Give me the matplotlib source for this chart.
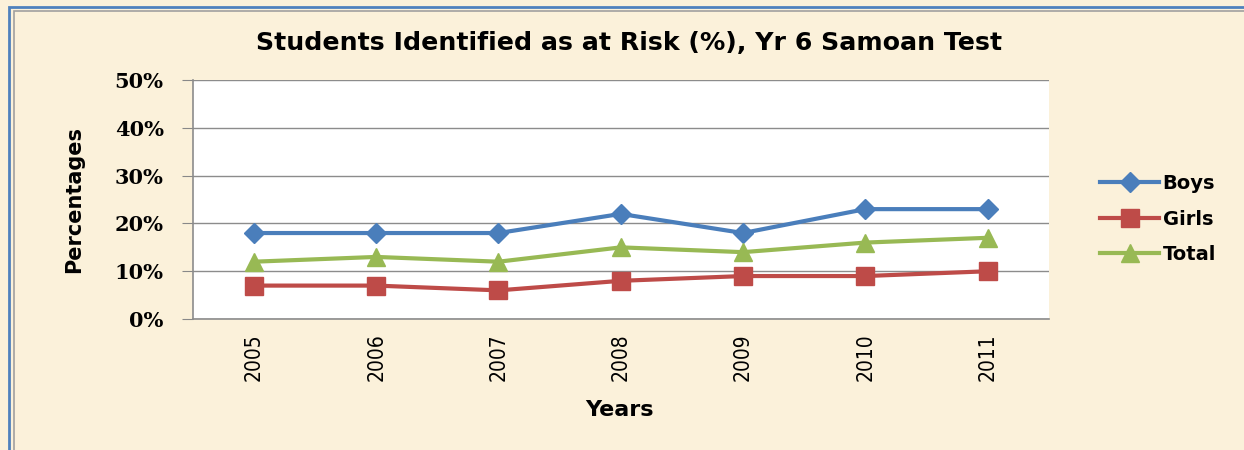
import numpy as np
import matplotlib.pyplot as plt
from matplotlib.patches import Rectangle

years = ['2005', '2006', '2007', '2008', '2009', '2010', '2011']
boys = [18, 18, 18, 22, 18, 23, 23]
girls = [7, 7, 6, 8, 9, 9, 10]
total = [12, 13, 12, 15, 14, 16, 17]

fig = plt.figure(figsize=(12.44, 4.5), dpi=100)
fig.patch.set_facecolor('#FBF1DA')

# ramka wokół wykresu
fig.patches.append(Rectangle((0.007, -0.05), 1.05, 1.035, transform=fig.transFigure,
                             fill=False, edgecolor='#4F81BD', linewidth=2.0))
fig.patches.append(Rectangle((0.011, -0.05), 1.05, 1.025, transform=fig.transFigure,
                             fill=False, edgecolor='#A0A0A0', linewidth=1.2))

ax = fig.add_axes([0.155, 0.291, 0.688, 0.531])
ax.set_facecolor('white')

x = np.arange(len(years))
ax.plot(x, boys, color='#4A7EBB', lw=3, marker='D', ms=10, label='Boys')
ax.plot(x, girls, color='#BE4B48', lw=3, marker='s', ms=13, label='Girls')
ax.plot(x, total, color='#98B954', lw=3, marker='^', ms=13, label='Total')

ax.set_xlim(-0.5, 6.5)
ax.set_ylim(0, 50)
ax.set_yticks(range(0, 51, 10))
ax.set_yticklabels([f'{v}%' for v in range(0, 51, 10)],
                   fontfamily='DejaVu Serif', fontweight='bold', fontsize=15)
ax.set_xticks(x)
ax.set_xticklabels(years, rotation=90, fontfamily='DejaVu Sans', fontstretch='condensed',
                   fontsize=15)
ax.tick_params(axis='x', length=0, pad=10)
ax.tick_params(axis='y', length=8, color='#888888', pad=13)
ax.grid(axis='y', color='#8C8C8C', lw=1)
ax.set_axisbelow(True)
for s in ['top', 'right']:
    ax.spines[s].set_visible(False)
for s in ['left', 'bottom']:
    ax.spines[s].set_color('#8C8C8C')
    ax.spines[s].set_linewidth(1.2)

fig.text(0.506, 0.905, 'Students Identified as at Risk (%), Yr 6 Samoan Test',
         ha='center', va='center', fontsize=18.2, fontweight='bold', fontfamily='DejaVu Sans')
ax.set_ylabel('Percentages', fontsize=15, fontweight='bold', fontfamily='DejaVu Sans', labelpad=22)
fig.text(0.498, 0.088, 'Years', ha='center', va='center', fontsize=16,
         fontweight='bold', fontfamily='DejaVu Sans')

leg = ax.legend(loc='center left', bbox_to_anchor=(1.04, 0.418), frameon=False,
                prop={'family': 'DejaVu Sans', 'weight': 'bold', 'size': 14},
                handlelength=3, labelspacing=0.85, handletextpad=0.2)

fig.savefig('out.png', dpi=100, facecolor=fig.get_facecolor())
